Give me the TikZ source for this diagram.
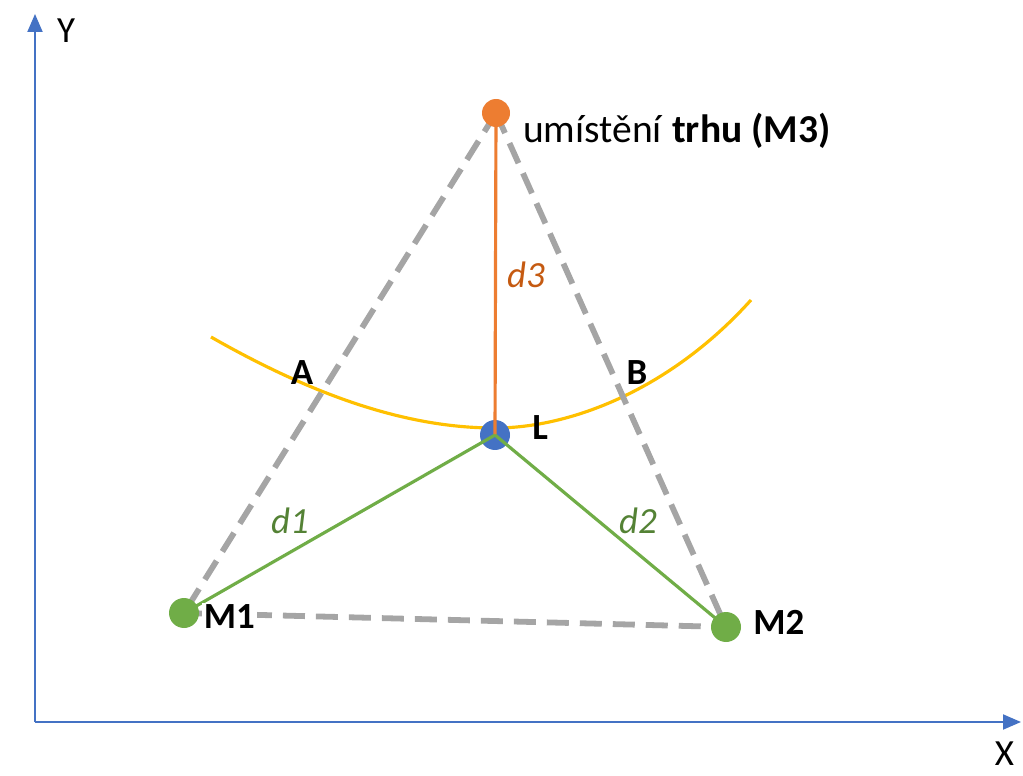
\documentclass[tikz,border=0pt]{standalone}
\usepackage{fontspec}
\setmainfont{Carlito}
\usetikzlibrary{arrows.meta,positioning}
\definecolor{axisblue}{HTML}{4472C4}
\definecolor{dotblue}{HTML}{4472C4}
\definecolor{mkorange}{HTML}{ED7D31}
\definecolor{txtorange}{HTML}{C55A11}
\definecolor{mkgreen}{HTML}{70AD47}
\definecolor{txtgreen}{HTML}{548235}
\definecolor{arcyellow}{HTML}{FFC000}
\definecolor{dashgray}{HTML}{A5A5A5}
\tikzset{
        lbl/.style={inner sep=1pt, font=\fontsize{21}{25}\selectfont},
        % Axes
        axis_line/.style={draw=axisblue, line width=1.1pt, -{Triangle[length=0.36cm, width=0.3cm]}},
        axis_lbl/.style={lbl},
        % Points of the map
        dot/.style={circle, inner sep=0pt, minimum size=0.6cm},
        % Point names
        point_lbl/.style={lbl, font=\fontsize{21}{25}\selectfont\bfseries},
        % Distances
        dist_lbl/.style={lbl, font=\fontsize{21}{25}\selectfont\itshape},
        % Triangle sides
        side_line/.style={draw=dashgray, line width=3.3pt, dash pattern=on 0.44cm off 0.22cm},
        % Isoline
        arc_line/.style={draw=arcyellow, line width=1.8pt}
}
\begin{document}
\begin{tikzpicture}[x=0.02cm, y=-0.02cm]
    \useasboundingbox (0,0) rectangle (1023,776);
    % axes
    \coordinate (o) at (35,722);
    \coordinate (ytop) at (35,14);
    \coordinate (xend) at (1021,722);
    \draw[axis_line] (o) -- (ytop);
    \draw[axis_line] (o) -- (xend);
    \node[axis_lbl] (ylbl) at (66,31) {Y};
    \node[axis_lbl, anchor=east] (xlbl) at (1016,754) {X};
    % isoline
    \draw[arc_line] (211,337) .. controls (330,405) and (420,428) .. (495,428)
        .. controls (570,428) and (670,390) .. (751,300);
    % places
    \coordinate (pm3) at (496,113);
    \coordinate (pl) at (495,435);
    \coordinate (pm1) at (184,613);
    \coordinate (pm2) at (726,627);
    \draw[side_line] (pm3) -- (pm1);
    \draw[side_line] (pm3) -- (pm2);
    \draw[side_line] (pm1) -- (pm2);
    \node[dot, fill=mkorange, minimum size=0.56cm] (m3) at (pm3) {};
    \node[dot, fill=dotblue] (l) at (pl) {};
    \node[dot, fill=mkgreen] (m1) at (pm1) {};
    \node[dot, fill=mkgreen] (m2) at (pm2) {};
    % distances
    \draw[draw=mkorange, line width=1.8pt] (m3.center) -- (l.center);
    \draw[draw=mkgreen, line width=1.8pt] (m1.center) -- (l.center);
    \draw[draw=mkgreen, line width=1.8pt] (m2.center) -- (l.center);
    % labels
    \node[point_lbl, fill=white, right=0.05cm of m1, yshift=-0.08cm] (m1lbl) {M1};
    \node[point_lbl, right=0.2cm of m2, yshift=0.1cm] (m2lbl) {M2};
    \node[point_lbl, right=0.4cm of l, yshift=0.15cm] (llbl) {L};
    \node[lbl, anchor=west, font=\fontsize{22.5}{26}\selectfont] (m3lbl) at (521,131) {umístění \textbf{trhu (M3)}};
    \node[point_lbl] (albl) at (302,373) {A};
    \node[point_lbl] (blbl) at (637,373) {B};
    \node[dist_lbl, text=txtgreen] (d1) at (290,521) {d1};
    \node[dist_lbl, text=txtgreen] (d2) at (638,521) {d2};
    \node[dist_lbl, text=txtorange] (d3) at (526,275) {d3};
\end{tikzpicture}
\end{document}
